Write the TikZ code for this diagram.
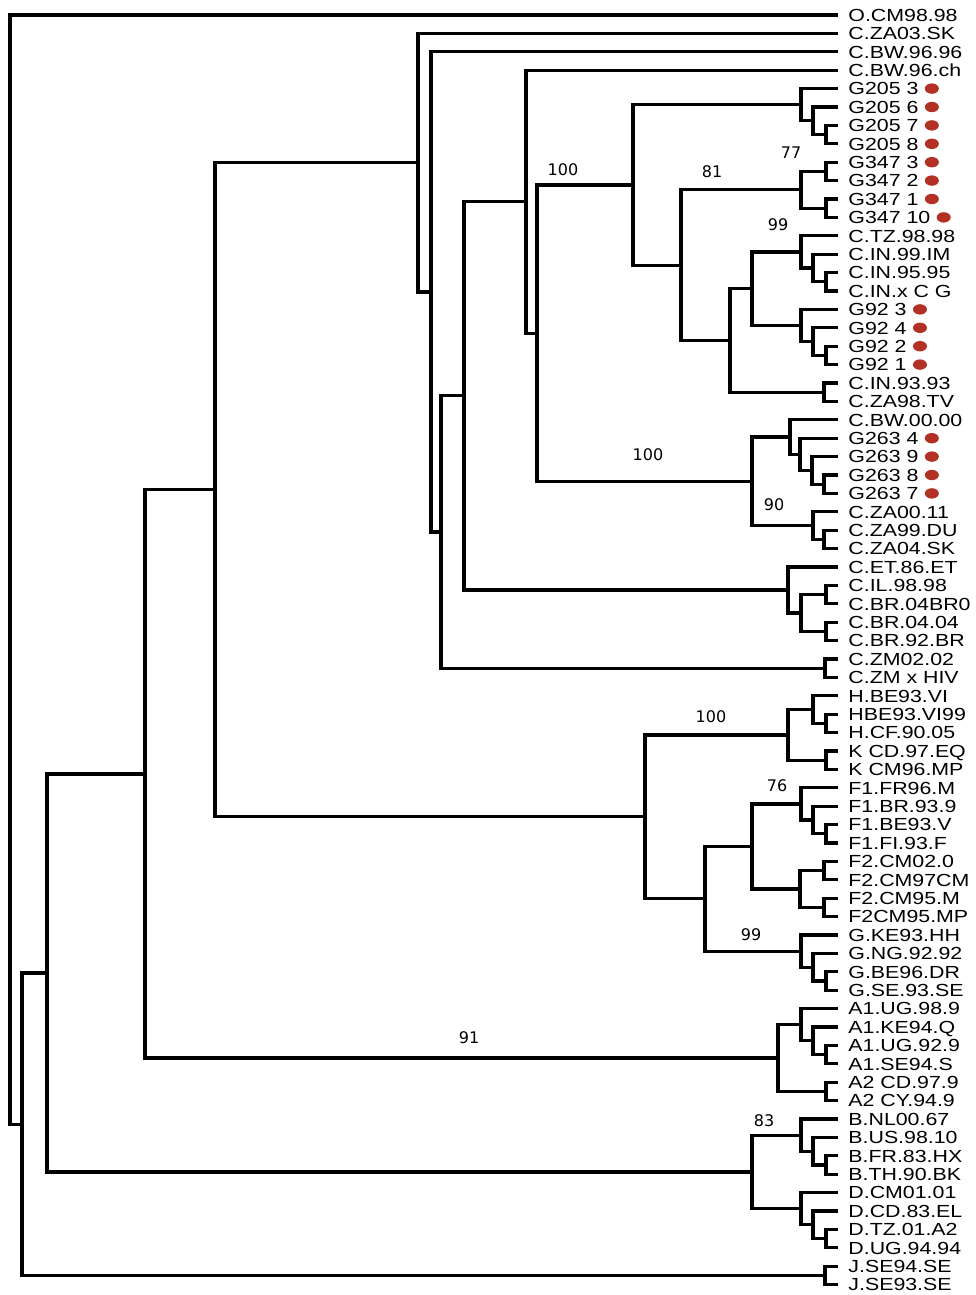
\documentclass[tikz,border=0pt]{standalone}
\usepackage{fontspec}
\usetikzlibrary{calc,shapes.geometric}
\newfontfamily\labfont[FakeStretch=1.22]{Liberation Sans}
\newfontfamily\bsfont{DejaVu Sans}
\definecolor{dotred}{RGB}{178,48,36}
\newcommand\jn[4]{%
  \coordinate (#1m) at ($(#3)!.5!(#4)$);
  \coordinate (#1) at (#2,0 |- #1m);
  \draw[branch] (#3) -| (#1) |- (#4);
}
\begin{document}
\begin{tikzpicture}[x=0.5pt,y=-0.5pt,
  branch/.style={line width=1.6pt, line join=miter, black},
  leaflab/.style={anchor=west, inner sep=0pt, font=\labfont\fontsize{8.75}{10}\selectfont, text height=6.3pt, text depth=0pt},
  rdot/.style={ellipse, fill=dotred, draw=none, minimum width=7pt, minimum height=5.2pt, inner sep=0pt},
  bs/.style={font=\bsfont\fontsize{8}{9}\selectfont, inner sep=0pt}]
\fill[white] (0,0) rectangle (975,1295);
\useasboundingbox (0,0) rectangle (975,1295);
% leaves
\foreach \i/\t in {0/O.CM98.98, 1/C.ZA03.SK, 2/C.BW.96.96, 3/C.BW.96.ch,
  4/G205 3, 5/G205 6, 6/G205 7, 7/G205 8, 8/G347 3, 9/G347 2, 10/G347 1, 11/G347 10,
  12/C.TZ.98.98, 13/C.IN.99.IM, 14/C.IN.95.95, 15/C.IN.x C G,
  16/G92 3, 17/G92 4, 18/G92 2, 19/G92 1, 20/C.IN.93.93, 21/C.ZA98.TV,
  22/C.BW.00.00, 23/G263 4, 24/G263 9, 25/G263 8, 26/G263 7,
  27/C.ZA00.11, 28/C.ZA99.DU, 29/C.ZA04.SK, 30/C.ET.86.ET, 31/C.IL.98.98,
  32/C.BR.04BR0, 33/C.BR.04.04, 34/C.BR.92.BR, 35/C.ZM02.02, 36/C.ZM x HIV,
  37/H.BE93.VI, 38/HBE93.VI99, 39/H.CF.90.05, 40/K CD.97.EQ, 41/K CM96.MP,
  42/F1.FR96.M, 43/F1.BR.93.9, 44/F1.BE93.V, 45/F1.FI.93.F,
  46/F2.CM02.0, 47/F2.CM97CM, 48/F2.CM95.M, 49/F2CM95.MP,
  50/G.KE93.HH, 51/G.NG.92.92, 52/G.BE96.DR, 53/G.SE.93.SE,
  54/A1.UG.98.9, 55/A1.KE94.Q, 56/A1.UG.92.9, 57/A1.SE94.S, 58/A2 CD.97.9, 59/A2 CY.94.9,
  60/B.NL00.67, 61/B.US.98.10, 62/B.FR.83.HX, 63/B.TH.90.BK,
  64/D.CM01.01, 65/D.CD.83.EL, 66/D.TZ.01.A2, 67/D.UG.94.94,
  68/J.SE94.SE, 69/J.SE93.SE} {
  \coordinate (l\i) at (838,{15+18.4*\i});
  \node[leaflab] (t\i) at (848,{15+18.4*\i}) {\t};
}
% G205
\jn{a1}{826}{l6}{l7}
\jn{a2}{813}{l5}{a1}
\jn{a3}{801}{l4}{a2}
% G347
\jn{b1}{826}{l8}{l9}
\jn{b2}{826}{l10}{l11}
\jn{b3}{801}{b1}{b2}
% C.TZ / C.IN
\jn{c1}{826}{l14}{l15}
\jn{c2}{813}{l13}{c1}
\jn{c3}{801}{l12}{c2}
% G92
\jn{d1}{826}{l18}{l19}
\jn{d2}{813}{l17}{d1}
\jn{d3}{801}{l16}{d2}
\jn{e1}{752}{c3}{d3}
\jn{e2}{824}{l20}{l21}
\jn{e3}{730}{e1}{e2}
\jn{e4}{681}{b3}{e3}
\jn{e5}{633}{a3}{e4}
% G263
\jn{f1}{824}{l25}{l26}
\jn{f2}{812}{l24}{f1}
\jn{f3}{800}{l23}{f2}
\jn{f4}{790}{l22}{f3}
% C.ZA
\jn{g1}{824}{l28}{l29}
\jn{g2}{813}{l27}{g1}
\jn{g3}{752}{f4}{g2}
\jn{h1}{537}{e5}{g3}
\jn{h2}{526}{l3}{h1}
% C.ET / C.BR
\jn{i1}{826}{l31}{l32}
\jn{i2}{826}{l33}{l34}
\jn{i3}{801}{i1}{i2}
\jn{i4}{788}{l30}{i3}
\jn{j1}{464}{h2}{i4}
\jn{j2}{825}{l35}{l36}
\jn{j3}{441}{j1}{j2}
\jn{j4}{431}{l2}{j3}
\jn{j5}{418}{l1}{j4}
% H / K
\jn{k1}{826}{l38}{l39}
\jn{k2}{813}{l37}{k1}
\jn{k3}{826}{l40}{l41}
\jn{k4}{788}{k2}{k3}
% F1
\jn{m1}{826}{l44}{l45}
\jn{m2}{813}{l43}{m1}
\jn{m3}{801}{l42}{m2}
% F2
\jn{m4}{824}{l46}{l47}
\jn{m5}{824}{l48}{l49}
\jn{m6}{800}{m4}{m5}
\jn{m7}{752}{m3}{m6}
% G
\jn{n1}{826}{l52}{l53}
\jn{n2}{813}{l51}{n1}
\jn{n3}{801}{l50}{n2}
\jn{n4}{705}{m7}{n3}
\jn{n5}{645}{k4}{n4}
\jn{p1}{215}{j5}{n5}
% A
\jn{q1}{826}{l56}{l57}
\jn{q2}{813}{l55}{q1}
\jn{q3}{801}{l54}{q2}
\jn{q4}{826}{l58}{l59}
\jn{q5}{778}{q3}{q4}
\jn{p2}{145}{p1}{q5}
% B
\jn{r1}{826}{l62}{l63}
\jn{r2}{813}{l61}{r1}
\jn{r3}{801}{l60}{r2}
% D
\jn{s1}{826}{l66}{l67}
\jn{s2}{813}{l65}{s1}
\jn{s3}{801}{l64}{s2}
\jn{s4}{752}{r3}{s3}
\jn{p3}{47}{p2}{s4}
% J
\jn{u1}{825}{l68}{l69}
\jn{p4}{22}{p3}{u1}
\jn{root}{10}{l0}{p4}
% red markers
\foreach \i in {4,5,6,7,8,9,10,11,16,17,18,19,23,24,25,26} {
  \node[rdot] (dt\i) at ([xshift=6.5pt]t\i.east) {};
}
% bootstrap values
\node[bs] (bs1) at (563,170) {100};
\node[bs] (bs2) at (712,172) {81};
\node[bs] (bs3) at (791,153) {77};
\node[bs] (bs4) at (778,225) {99};
\node[bs] (bs5) at (648,455) {100};
\node[bs] (bs6) at (774,505) {90};
\node[bs] (bs7) at (711,717) {100};
\node[bs] (bs8) at (777,786) {76};
\node[bs] (bs9) at (751,935) {99};
\node[bs] (bs10) at (469,1038) {91};
\node[bs] (bs11) at (764,1121) {83};
\end{tikzpicture}
\end{document}
